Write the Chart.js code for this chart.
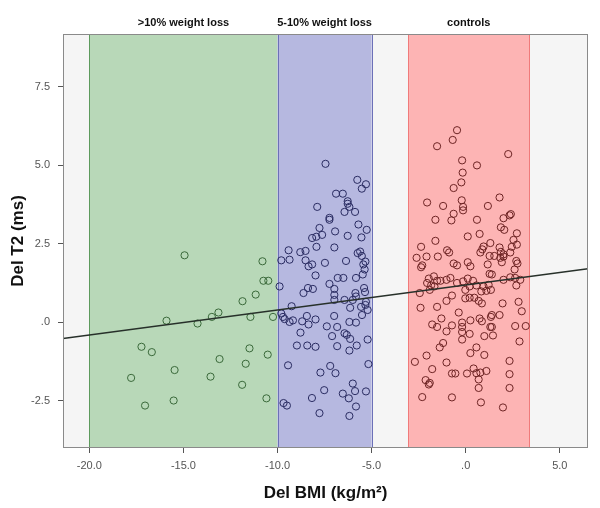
<!DOCTYPE html>
<html>
<head>
<meta charset="utf-8">
<script src="https://cdn.jsdelivr.net/npm/chart.js@4"></script>
<style>
  html, body { margin: 0; padding: 0; background: #fff; }
  #wrap { width: 600px; height: 508px; position: relative; }
</style>
</head>
<body>
<div id="wrap"><canvas id="c"></canvas></div>
<script>
// Del T2 vs Del BMI scatter, three weight-loss groups on shaded bands.
const X_RANGE = [-21.4, 6.5];
const Y_RANGE = [-4.0, 9.17];
const X_TICKS = [-20, -15, -10, -5, 0, 5];
const Y_TICKS = [-2.5, 0, 2.5, 5, 7.5];

const GROUP_LABELS = [">10% weight loss", "5-10% weight loss", "controls"];
const GROUP_FROM = [-20, -10, -3.05];
const GROUP_TO = [-10, -5, 3.38];

const FIT_X = [-21.4, 6.5];
const FIT_Y = [-0.52, 1.70];

const GREEN_X = [-14.94,-10.8,-10.75,-10.49,-11.16,-11.86,-13.14,-13.49,-11.44,-10.24,-15.9,-14.25,-17.23,-16.68,-11.49,-10.52,-13.08,-11.69,-15.47,-17.78,-13.56,-11.88,-17.04,-15.52,-10.59];
const GREEN_Y = [2.13,1.94,1.32,1.32,0.88,0.67,0.31,0.17,0.17,0.17,0.05,-0.04,-0.78,-0.95,-0.83,-1.03,-1.17,-1.32,-1.52,-1.77,-1.73,-1.99,-2.65,-2.49,-2.42];

const BLUE_X = [-7.45,-5.76,-5.30,-5.52,-6.89,-6.53,-6.27,-6.27,-7.89,-6.18,-6.44,-5.88,-7.24,-7.24,-5.70,-7.77,-5.26,-6.94,-7.63,-8.16,-7.94,-6.27,-5.54,-7.93,-6.98,-9.41,-8.79,-8.51,-5.74,-5.61,-5.52,-9.80,-9.36,-8.51,-6.36,-5.33,-5.44,-8.35,-8.16,-7.48,-5.37,-7.98,-6.80,-6.50,-5.83,-5.47,-7.24,-9.89,-8.38,-8.12,-6.98,-5.40,
  -8.62,-6.98,-6.98,-5.86,-5.83,-5.35,-6.44,-6.0,-5.30,-5.33,-5.56,-6.14,-9.25,-5.21,-5.51,-9.80,-9.71,-9.62,-9.36,-9.18,-8.69,-8.44,-8.35,-7.98,-6.99,-6.18,-5.83,-7.38,-6.83,-8.78,-6.44,-6.32,-7.10,-6.14,-5.21,-8.97,-8.42,-7.98,-6.83,-5.79,-6.18,-9.44,-5.17,-7.20,-7.72,-6.92,-6.0,-7.52,-5.88,-6.53,-5.30,-8.17,-6.21,-5.83,-9.68,-9.50,-7.77,-6.18];
const BLUE_Y = [5.04,4.53,4.39,4.25,4.09,4.09,3.85,3.77,3.67,3.67,3.51,3.51,3.32,3.26,3.11,3.0,2.94,2.89,2.78,2.68,2.72,2.75,2.70,2.40,2.38,2.29,2.23,2.27,2.20,2.25,2.11,1.97,1.99,1.97,1.95,1.93,1.84,1.78,1.84,1.89,1.68,1.49,1.41,1.41,1.41,1.52,1.22,1.14,1.09,1.06,1.06,1.09,
  0.93,0.87,0.71,0.93,0.82,0.96,0.71,0.71,0.65,0.55,0.49,0.46,0.51,0.39,0.23,0.28,0.17,0.10,0.01,0.06,0.03,0.20,-0.07,0.09,0.20,0.01,-0.01,-0.13,-0.15,-0.33,-0.35,-0.40,-0.44,-0.53,-0.55,-0.74,-0.74,-0.78,-0.76,-0.74,-0.90,-1.37,-1.33,-1.39,-1.60,-1.62,-1.95,-2.16,-2.19,-2.27,-2.20,-2.41,-2.42,-2.68,-2.57,-2.65,-2.89,-2.98];

const RED_X = [-0.46,-0.69,-1.52,2.26,-0.19,0.60,-0.16,-0.23,-0.64,-0.21,-2.05,1.80,-1.20,-0.14,-0.14,1.18,-0.64,-1.61,-0.76,0.60,2.01,2.33,2.40,1.87,2.05,2.72,0.11,0.74,-1.61,2.54,2.72,1.31,-2.37,-0.99,-0.88,0.95,0.88,1.80,2.45,0.78,1.87,2.01,2.37,-2.61,-2.08,-1.48,1.27,1.52,1.84,2.01,2.69,2.75,1.92,1.17,-0.64,-0.46,0.11,0.25,-2.31,
  -1.96,-1.69,-1.52,-2.05,-1.84,-1.66,-2.44,-1.91,-1.34,-1.02,-0.81,-0.46,-0.14,0.11,0.39,0.57,0.95,1.22,1.34,-0.02,0.21,0.83,1.10,1.27,1.39,2.01,2.37,2.63,2.69,2.90,-2.37,2.60,-0.02,0.21,0.46,0.69,0.86,-0.73,-1.02,-2.40,-1.52,-0.37,1.96,2.81,2.98,1.39,1.34,1.80,0.74,0.86,0.25,-1.29,-1.78,-1.52,-0.73,-0.19,-0.19,-1.02,-0.19,0.21,1.39,1.31,1.45,0.99,2.63,3.19,2.86,-0.19,-1.20,-1.38,0.57,0.25,-2.08,0.99,-2.70,-1.02,2.33,-1.78,-0.73,-0.55,0.07,0.42,0.57,0.78,1.10,2.33,-2.13,-1.91,-1.96,0.69,0.69,2.33,-2.31,-0.73,0.81,1.98];
const RED_Y = [6.11,5.80,5.60,5.35,5.15,4.99,4.76,4.45,4.27,3.88,3.81,3.97,3.70,3.67,3.56,3.70,3.45,3.26,3.24,3.26,3.31,3.40,3.44,3.02,2.94,2.83,2.73,2.81,2.59,2.62,2.47,2.52,2.40,2.29,2.22,2.41,2.32,2.38,2.40,2.22,2.24,2.16,2.22,2.05,2.09,2.09,2.11,2.11,2.05,2.09,1.95,1.87,1.91,1.84,1.87,1.81,1.91,1.78,1.81,
  1.39,1.46,1.32,1.25,1.17,1.14,0.93,1.03,1.32,1.35,1.41,1.25,1.30,1.39,1.32,1.17,1.14,1.19,1.03,1.03,1.14,0.98,1.0,1.54,1.52,1.35,1.43,1.41,1.17,1.35,1.75,1.68,0.76,0.78,0.78,0.68,0.60,0.85,0.68,0.46,0.49,0.31,0.60,0.65,0.35,0.23,0.17,0.23,0.12,0.03,0.06,0.12,-0.07,-0.15,-0.10,-0.01,-0.15,-0.29,-0.31,-0.37,-0.15,-0.15,-0.42,-0.44,-0.12,-0.12,-0.61,-0.55,-0.66,-0.80,-0.80,-0.98,-1.06,-1.04,-1.26,-1.28,-1.23,-1.49,-1.63,-1.63,-1.63,-1.47,-1.62,-1.60,-1.55,-1.65,-1.84,-1.93,-1.98,-1.82,-2.09,-2.09,-2.38,-2.39,-2.55,-2.71];

const BAND_FILL = ["#b8d8b8", "#b6b8e0", "#fdb4b4"];
const BAND_EDGE = ["#5d9a5d", "#6c70b8", "#f07a7a"];
const MARK_EDGE = ["#3b6a3b", "#2a2c62", "#6e2424"];

const pts = (xs, ys) => xs.map((x, i) => ({ x, y: ys[i] }));

// SPSS-style labels: ".0", "-2.5", "5.0"
function spssFmt(v) {
  if (v === 0) return ".0";
  return v.toFixed(1);
}

const FONT = "'Liberation Sans', Arial, Helvetica, sans-serif";

const bandsPlugin = {
  id: "bands",
  beforeDatasetsDraw(chart) {
    const { ctx, chartArea: a, scales: { x } } = chart;
    ctx.save();
    ctx.fillStyle = "#f5f5f5";
    ctx.fillRect(a.left, a.top, a.right - a.left, a.bottom - a.top);
    GROUP_FROM.forEach((from, i) => {
      const x0 = x.getPixelForValue(from);
      const x1 = x.getPixelForValue(GROUP_TO[i]);
      ctx.fillStyle = BAND_FILL[i];
      ctx.fillRect(x0, a.top, x1 - x0, a.bottom - a.top);
    });
    GROUP_FROM.forEach((from, i) => {
      const x0 = Math.round(x.getPixelForValue(from)) + 0.5;
      const x1 = Math.round(x.getPixelForValue(GROUP_TO[i])) + 0.5;
      ctx.strokeStyle = BAND_EDGE[i];
      ctx.lineWidth = 1;
      ctx.strokeRect(x0, a.top + 0.5, x1 - x0, a.bottom - a.top - 1);
    });
    // group captions above the plot
    ctx.fillStyle = "#111";
    ctx.font = `bold 11px ${FONT}`;
    ctx.textAlign = "center";
    ctx.textBaseline = "middle";
    GROUP_LABELS.forEach((lbl, i) => {
      const cx = (x.getPixelForValue(GROUP_FROM[i]) + x.getPixelForValue(GROUP_TO[i])) / 2;
      ctx.fillText(lbl, cx, a.top - 11);
    });
    ctx.restore();
  },
  afterDraw(chart) {
    const { ctx, chartArea: a } = chart;
    ctx.save();
    ctx.strokeStyle = "#8a8a8a";
    ctx.lineWidth = 1;
    ctx.strokeRect(Math.round(a.left) + 0.5, Math.round(a.top) + 0.5,
      Math.round(a.right - a.left) - 1, Math.round(a.bottom - a.top) - 1);
    ctx.restore();
  },
};

const scatterSet = (data, i) => ({
  type: "scatter",
  data,
  pointStyle: "circle",
  pointRadius: 3.6,
  pointBorderWidth: 1,
  pointBorderColor: MARK_EDGE[i],
  pointBackgroundColor: "rgba(0,0,0,0)",
  borderColor: MARK_EDGE[i],
  backgroundColor: "rgba(0,0,0,0)",
});

new Chart(document.getElementById("c"), {
  type: "scatter",
  data: {
    datasets: [
      {
        type: "line",
        data: pts(FIT_X, FIT_Y),
        borderColor: "#27302a",
        borderWidth: 1.5,
        pointRadius: 0,
        fill: false,
      },
      scatterSet(pts(GREEN_X, GREEN_Y), 0),
      scatterSet(pts(BLUE_X, BLUE_Y), 1),
      scatterSet(pts(RED_X, RED_Y), 2),
    ],
  },
  options: {
    responsive: true,
    maintainAspectRatio: false,
    animation: false,
    layout: { padding: { top: 34, right: 12, left: 0, bottom: 0 } },
    plugins: { legend: { display: false }, tooltip: { enabled: false } },
    scales: {
      x: {
        type: "linear",
        min: X_RANGE[0],
        max: X_RANGE[1],
        afterBuildTicks: (s) => { s.ticks = X_TICKS.map((v) => ({ value: v })); },
        afterFit: (s) => { s.height = 60; },
        grid: { drawOnChartArea: false, drawTicks: true, tickLength: 5, color: "#555" },
        border: { display: false },
        ticks: {
          color: "#555",
          font: { family: FONT, size: 11 },
          padding: 6,
          maxRotation: 0,
          callback: (v) => spssFmt(v),
        },
        title: {
          display: true,
          text: "Del BMI (kg/m²)",
          color: "#111",
          font: { family: FONT, size: 17, weight: "bold" },
          padding: { top: 4, bottom: 4 },
        },
      },
      y: {
        type: "linear",
        min: Y_RANGE[0],
        max: Y_RANGE[1],
        afterBuildTicks: (s) => { s.ticks = Y_TICKS.map((v) => ({ value: v })); },
        afterFit: (s) => { s.width = 63; },
        grid: { drawOnChartArea: false, drawTicks: true, tickLength: 5, color: "#555" },
        border: { display: false },
        ticks: {
          color: "#555",
          font: { family: FONT, size: 11 },
          padding: 8,
          callback: (v) => spssFmt(v),
        },
        title: {
          display: true,
          text: "Del T2 (ms)",
          color: "#111",
          font: { family: FONT, size: 17, weight: "bold" },
          padding: { top: 8, bottom: 0 },
        },
      },
    },
  },
  plugins: [bandsPlugin],
});
</script>
</body>
</html>
